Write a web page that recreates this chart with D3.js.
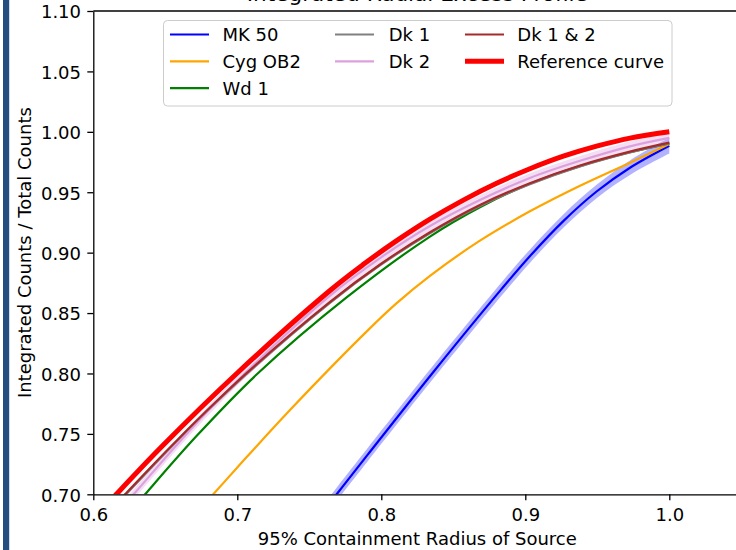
<!DOCTYPE html>
<html>
<head>
<meta charset="utf-8">
<script src="https://cdn.jsdelivr.net/npm/d3@7"></script>
<style>
  html, body { margin: 0; padding: 0; background: #ffffff; }
  svg { display: block; font-family: "DejaVu Sans", sans-serif; }
</style>
</head>
<body>
<svg id="chart" width="736" height="550"></svg>
<script>
// ---- data -------------------------------------------------------------
const xTicks = [0.6, 0.7, 0.8, 0.9, 1.0];
const yTicks = [0.70, 0.75, 0.80, 0.85, 0.90, 0.95, 1.00, 1.05, 1.10];

const mk50X   = [0.750, 0.769, 0.7907, 0.837, 0.8833, 0.9033, 0.9264, 0.9495, 0.9727, 1.000];
const mk50Y   = [0.671, 0.700, 0.733, 0.8025, 0.8696, 0.8972, 0.9261, 0.9506, 0.9703, 0.9885];
const mk50Err = [0.0055, 0.0055, 0.0055, 0.0055, 0.0055, 0.0055, 0.0055, 0.0055, 0.006, 0.0065];

const cygX = [0.660, 0.6833, 0.700, 0.7366, 0.7908, 0.8107, 0.8338, 0.8685, 0.9032, 0.938, 0.9727, 1.000];
const cygY = [0.669, 0.700, 0.7222, 0.7698, 0.8359, 0.8582, 0.8808, 0.9099, 0.9342, 0.9554, 0.9745, 0.990];

const wd1X = [0.610, 0.636, 0.672, 0.7134, 0.7759, 0.8338, 0.8685, 0.9032, 0.938, 0.9727, 1.000];
const wd1Y = [0.6636, 0.700, 0.7486, 0.7991, 0.8629, 0.9133, 0.9376, 0.957, 0.9716, 0.9831, 0.9905];

const dk1X = [0.600, 0.622, 0.658, 0.7053, 0.7644, 0.7991, 0.8338, 0.8685, 0.9032, 0.938, 0.9727, 1.000];
const dk1Y = [0.671, 0.699, 0.7438, 0.7982, 0.8585, 0.8894, 0.9161, 0.9387, 0.9567, 0.9714, 0.9830, 0.9905];

const dk2X   = [0.600, 0.628, 0.661, 0.700, 0.7644, 0.7991, 0.8338, 0.8685, 0.9032, 0.938, 0.9727, 1.000];
const dk2Y   = [0.663, 0.700, 0.745, 0.794, 0.8645, 0.8955, 0.922, 0.9435, 0.9618, 0.976, 0.988, 0.995];
const dk2Err = [0.004, 0.004, 0.004, 0.004, 0.004, 0.004, 0.004, 0.004, 0.004, 0.004, 0.004, 0.004];

const dk12X = [0.600, 0.622, 0.658, 0.7053, 0.7644, 0.7991, 0.8338, 0.8685, 0.9032, 0.938, 0.9727, 1.000];
const dk12Y = [0.672, 0.700, 0.7446, 0.799, 0.8593, 0.8902, 0.9169, 0.9395, 0.9575, 0.9721, 0.9836, 0.991];

const refX = [0.580, 0.616, 0.6486, 0.700, 0.7644, 0.7876, 0.8107, 0.8338, 0.857, 0.8801, 0.9032, 0.9264, 0.9495, 0.9727, 1.000];
const refY = [0.653, 0.700, 0.7408, 0.8004, 0.8687, 0.8903, 0.9099, 0.9277, 0.9435, 0.9574, 0.9694, 0.9798, 0.9881, 0.9948, 1.000];

const seriesNames = ["MK 50", "Cyg OB2", "Wd 1", "Dk 1", "Dk 2", "Dk 1 & 2", "Reference curve"];

// ---- styling ------------------------------------------------------------
const styles = {
  "MK 50":           { color: "#0000ff", width: 2.2 },
  "Cyg OB2":         { color: "#ffa500", width: 2.2 },
  "Wd 1":            { color: "#008000", width: 2.2 },
  "Dk 1":            { color: "#808080", width: 2.2 },
  "Dk 2":            { color: "#dda0dd", width: 2.2 },
  "Dk 1 & 2":        { color: "#a52a2a", width: 2.2 },
  "Reference curve": { color: "#ff0000", width: 5 }
};

const series = [
  { name: "MK 50",           xs: mk50X, ys: mk50Y, err: mk50Err, bandOpacity: 0.3 },
  { name: "Cyg OB2",         xs: cygX,  ys: cygY },
  { name: "Wd 1",            xs: wd1X,  ys: wd1Y },
  { name: "Dk 1",            xs: dk1X,  ys: dk1Y },
  { name: "Dk 2",            xs: dk2X,  ys: dk2Y, err: dk2Err, bandOpacity: 0.35 },
  { name: "Dk 1 & 2",        xs: dk12X, ys: dk12Y },
  { name: "Reference curve", xs: refX,  ys: refY }
];

// ---- layout -------------------------------------------------------------
const W = 736, H = 550;
const plotLeft = 93.3, plotRight = 741.3, plotTop = 11, plotBottom = 494.3;
const fontSize = 18;

const svg = d3.select("#chart");
svg.append("rect").attr("width", W).attr("height", H).attr("fill", "#ffffff");

// neighbouring panel edge on the far left
svg.append("rect").attr("x", 3).attr("y", 0).attr("width", 6).attr("height", H).attr("fill", "#234c80");
svg.append("rect").attr("x", 9).attr("y", 0).attr("width", 1).attr("height", H).attr("fill", "#cfdbeb");

const x = d3.scaleLinear().domain([0.6, 1.05]).range([plotLeft, plotRight]);
const y = d3.scaleLinear().domain([0.70, 1.10]).range([plotBottom, plotTop]);

svg.append("defs").append("clipPath").attr("id", "plotClip")
  .append("rect").attr("x", plotLeft).attr("y", plotTop)
  .attr("width", plotRight - plotLeft).attr("height", plotBottom - plotTop);

const plot = svg.append("g").attr("clip-path", "url(#plotClip)");

const smooth = d3.curveCatmullRom.alpha(0.5);
const lineGen = d3.line().x(d => x(d[0])).y(d => y(d[1])).curve(smooth);
const areaGen = d3.area().x(d => x(d[0])).y0(d => y(d[1] - d[2])).y1(d => y(d[1] + d[2]))
  .curve(smooth);

series.forEach(s => {
  const st = styles[s.name];
  if (s.err) {
    const band = s.xs.map((v, i) => [v, s.ys[i], s.err[i]]);
    plot.append("path").datum(band)
      .attr("d", areaGen)
      .attr("fill", st.color)
      .attr("fill-opacity", s.bandOpacity)
      .attr("stroke", "none");
  }
  const pts = s.xs.map((v, i) => [v, s.ys[i]]);
  plot.append("path").datum(pts)
    .attr("d", lineGen)
    .attr("fill", "none")
    .attr("stroke", st.color)
    .attr("stroke-width", st.width)
    .attr("stroke-linejoin", "round")
    .attr("stroke-linecap", "butt");
});

// ---- axes ---------------------------------------------------------------
const xAxis = d3.axisBottom(x).tickValues(xTicks).tickFormat(d3.format(".1f"))
  .tickSize(6).tickSizeOuter(0).tickPadding(8);
const yAxis = d3.axisLeft(y).tickValues(yTicks).tickFormat(d3.format(".2f"))
  .tickSize(6).tickSizeOuter(0).tickPadding(6.3);

const gx = svg.append("g").attr("transform", `translate(0,${plotBottom})`).call(xAxis);
const gy = svg.append("g").attr("transform", `translate(${plotLeft},0)`).call(yAxis);

[gx, gy].forEach(g => {
  g.selectAll("text").attr("font-size", fontSize).attr("fill", "#000")
    .attr("font-family", "DejaVu Sans, sans-serif");
  g.selectAll("line").attr("stroke", "#000").attr("stroke-width", 1.3);
  g.select(".domain").attr("stroke", "#000").attr("stroke-width", 1.3);
});
gy.selectAll("text").attr("dy", "0.38em");

// top spine
svg.append("line").attr("x1", plotLeft).attr("x2", plotRight).attr("y1", plotTop).attr("y2", plotTop)
  .attr("stroke", "#000").attr("stroke-width", 1.3);

// ---- text ---------------------------------------------------------------
svg.append("text").attr("x", (plotLeft + plotRight) / 2).attr("y", 1)
  .attr("text-anchor", "middle").attr("font-size", 21.6).attr("fill", "#000")
  .text("Integrated Radial Excess Profile");

svg.append("text").attr("x", (plotLeft + plotRight) / 2).attr("y", 545)
  .attr("text-anchor", "middle").attr("font-size", fontSize).attr("fill", "#000")
  .text("95% Containment Radius of Source");

svg.append("text")
  .attr("transform", `translate(30.7,${(plotTop + plotBottom) / 2}) rotate(-90)`)
  .attr("text-anchor", "middle").attr("font-size", fontSize).attr("fill", "#000")
  .text("Integrated Counts / Total Counts");

// ---- legend -------------------------------------------------------------
const legend = svg.append("g");
legend.append("rect")
  .attr("x", 163.5).attr("y", 20.5).attr("width", 508.5).attr("height", 85.5)
  .attr("rx", 4).attr("fill", "#ffffff").attr("fill-opacity", 0.8)
  .attr("stroke", "#cccccc").attr("stroke-width", 1);

const colX = [{ h: 170, t: 222.5 }, { h: 335, t: 388.7 }, { h: 465, t: 517.3 }];
const rowY = [34.5, 61.3, 88.1];
const perCol = [3, 2, 2];
let idx = 0;
perCol.forEach((n, c) => {
  for (let r = 0; r < n; r++) {
    const name = seriesNames[idx++];
    const st = styles[name];
    legend.append("line")
      .attr("x1", colX[c].h).attr("x2", colX[c].h + 39)
      .attr("y1", rowY[r]).attr("y2", rowY[r])
      .attr("stroke", st.color).attr("stroke-width", st.width);
    legend.append("text")
      .attr("x", colX[c].t).attr("y", rowY[r] + 6.8)
      .attr("font-size", fontSize).attr("fill", "#000")
      .text(name);
  }
});
</script>
</body>
</html>
